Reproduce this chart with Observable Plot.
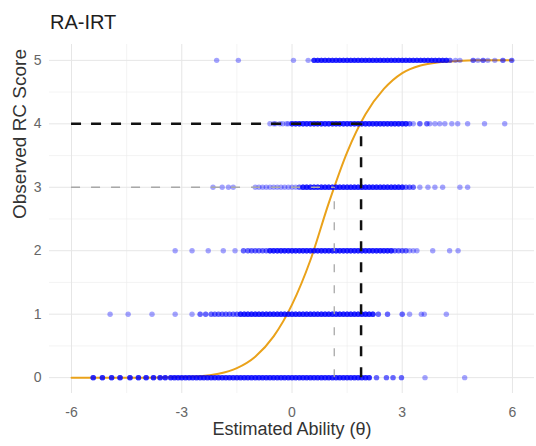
<!DOCTYPE html>
<html>
<head>
<meta charset="utf-8">
<script src="https://cdn.jsdelivr.net/npm/d3@7"></script>
<script src="https://cdn.jsdelivr.net/npm/@observablehq/plot@0.6"></script>
<style>
  html, body { margin: 0; padding: 0; background: #fff; }
  #wrap { width: 536px; height: 446px; position: relative; overflow: hidden; }
  #title { height: 36px; box-sizing: border-box; padding: 12px 0 0 50px; font: 20px/20px "Liberation Sans", Arial, sans-serif; color: #1e1e1e; }
  #chart svg { display: block; }
</style>
</head>
<body>
<div id="wrap">
  <div id="title">RA-IRT</div>
  <div id="chart"></div>
</div>
<script>
// ---- axis ticks ----
const xTicks = [-6, -3, 0, 3, 6];
const xMinor = [-4.5, -1.5, 1.5, 4.5];
const yTicks = [0, 1, 2, 3, 4, 5];
const yMinor = [0.5, 1.5, 2.5, 3.5, 4.5];

// ---- expected score curve ----
const curveTheta = [-6, -5, -4, -3, -2.5, -2, -1.5, -1, -0.5, 0, 0.5, 1, 1.5, 2, 2.5, 3, 3.5, 4, 4.5, 5, 6];
const curveScore = [0, 0, 0, 0.01, 0.02, 0.06, 0.15, 0.33, 0.65, 1.15, 1.85, 2.75, 3.55, 4.15, 4.55, 4.8, 4.92, 4.97, 4.99, 5, 5];

// ---- cut-off guides ----
const cutScore = [3, 4];
const cutTheta = [1.15, 1.88];

// ---- observed students: isolated points (one per value) and dense bands (~4 per value) ----
const bandCount = 4;
const sparse0 = [2.3, 2.3, 2.57, 2.57, 2.75, 2.75, 2.98, 2.98, 3.62, 4.7];
const band0 = [-5.41, -5.16, -4.91, -4.68, -4.41, -4.18, -3.97, -3.77, -3.59, -3.45,
  -3.3, -3.2, -3.1, -3.0, -2.9, -2.8, -2.7, -2.6, -2.5, -2.4,
  -2.3, -2.2, -2.1, -2.0, -1.9, -1.8, -1.7, -1.6, -1.5, -1.4,
  -1.3, -1.2, -1.1, -1.0, -0.9, -0.8, -0.7, -0.6, -0.5, -0.4,
  -0.3, -0.2, -0.1, 0.0, 0.1, 0.2, 0.3, 0.4, 0.5, 0.6,
  0.7, 0.8, 0.9, 1.0, 1.1, 1.2, 1.3, 1.4, 1.5, 1.6,
  1.7, 1.8, 1.9, 2.0, 2.1];

const sparse1 = [-4.95, -4.46, -3.81, -3.18, -2.72,
  -2.5, -2.5, -2.35, -2.35, -2.2, -2.2, -2.1, -2.1, -2.0, -2.0, -1.9, -1.9, -1.8, -1.8, -1.7, -1.7, -1.6, -1.6, -1.5, -1.5,
  2.35, 2.35, 2.6, 2.6, 3.0, 3.0, 3.2, 3.52, 3.6, 4.2];
const band1 = [-1.4, -1.3, -1.2, -1.1, -1.0, -0.9, -0.8, -0.7, -0.6, -0.5,
  -0.4, -0.3, -0.2, -0.1, 0.0, 0.1, 0.2, 0.3, 0.4, 0.5,
  0.6, 0.7, 0.8, 0.9, 1.0, 1.1, 1.2, 1.3, 1.4, 1.5,
  1.6, 1.7, 1.8, 1.9, 2.0, 2.1, 2.2];

const sparse2 = [-3.18, -2.72, -2.28, -1.87, -1.55,
  -1.32, -1.32, -1.2, -1.2, -1.1, -1.1, -1.0, -1.0, -0.9, -0.9, -0.8, -0.8, -0.7, -0.7,
  2.8, 2.8, 2.9, 2.9, 3.0, 3.0, 3.1, 3.1, 3.2, 3.3, 3.4, 3.83, 4.29, 4.52];
const band2 = [-0.6, -0.5, -0.4, -0.3, -0.2, -0.1, 0.0, 0.1, 0.2, 0.3,
  0.4, 0.5, 0.6, 0.7, 0.8, 0.9, 1.0, 1.1, 1.2, 1.3,
  1.4, 1.5, 1.6, 1.7, 1.8, 1.9, 2.0, 2.1, 2.2, 2.3,
  2.4, 2.5, 2.6, 2.7];

const sparse3 = [-2.15, -1.9, -1.73, -1.6,
  -1.0, -0.9, -0.8, -0.7, -0.6, -0.5, -0.4, -0.3, -0.2, -0.1, 0.0, 0.1, 0.2, 0.2,
  3.1, 3.1, 3.2, 3.2, 3.3, 3.3, 3.48, 3.7, 3.89, 4.1, 4.57, 4.78];
const band3 = [0.3, 0.4, 0.5, 0.6, 0.7, 0.8, 0.9, 1.0, 1.1, 1.2,
  1.3, 1.4, 1.5, 1.6, 1.7, 1.8, 1.9, 2.0, 2.1, 2.2,
  2.3, 2.4, 2.5, 2.6, 2.7, 2.8, 2.9, 3.0];

const sparse4 = [-0.6, -0.5, -0.45, -0.33, -0.25, -0.15, -0.1,
  3.2, 3.2, 3.3, 3.48, 3.48, 3.67, 3.67, 3.75, 3.89, 4.02, 4.16, 4.35, 4.51, 4.78, 5.24, 5.79];
const band4 = [0.0, 0.1, 0.2, 0.3, 0.4, 0.5, 0.6, 0.7, 0.8, 0.9,
  1.0, 1.1, 1.2, 1.3, 1.4, 1.5, 1.6, 1.7, 1.8, 1.9,
  2.0, 2.1, 2.2, 2.3, 2.4, 2.5, 2.6, 2.7, 2.8, 2.9,
  3.0, 3.1];

const sparse5 = [-2.05, -1.46, 0.04, 0.44,
  4.3, 4.3, 4.45, 4.57, 4.93, 4.93, 5.06, 5.2, 5.2, 5.33, 5.52, 5.74, 5.74, 5.98, 5.98];
const band5 = [0.6, 0.7, 0.8, 0.9, 1.0, 1.1, 1.2, 1.3, 1.4, 1.5,
  1.6, 1.7, 1.8, 1.9, 2.0, 2.1, 2.2, 2.3, 2.4, 2.5,
  2.6, 2.7, 2.8, 2.9, 3.0, 3.1, 3.2, 3.3, 3.4, 3.5,
  3.6, 3.7, 3.8, 3.9, 4.0, 4.1, 4.2];

// ---- build tables ----
const rows = [
  [0, sparse0, band0], [1, sparse1, band1], [2, sparse2, band2],
  [3, sparse3, band3], [4, sparse4, band4], [5, sparse5, band5]
];
const points = [];
for (const [score, sparse, band] of rows) {
  for (const t of sparse) points.push({theta: t, score});
  for (const t of band) for (let k = 0; k < bandCount; k++) points.push({theta: t, score});
}
const curve = curveTheta.map((t, i) => ({theta: t, score: curveScore[i]}));
const cuts = cutScore.map((s, i) => ({score: s, theta: cutTheta[i]}));
const thetaStart = xTicks[0];
const scoreStart = yTicks[0];

const font = "'Liberation Sans', Arial, sans-serif";

const chart = Plot.plot({
  width: 536,
  height: 410,
  marginTop: 8,
  marginBottom: 53,
  marginLeft: 49,
  marginRight: 2,
  style: {fontFamily: font, background: "#fff"},
  x: {domain: [-6.6, 6.6], label: null},
  y: {domain: [-0.25, 5.25], label: null},
  marks: [
    Plot.gridX(xMinor, {stroke: "#ececec", strokeOpacity: 1, strokeWidth: 0.6}),
    Plot.gridY(yMinor, {stroke: "#ececec", strokeOpacity: 1, strokeWidth: 0.6}),
    Plot.gridX(xTicks, {stroke: "#e6e6e6", strokeOpacity: 1, strokeWidth: 1}),
    Plot.gridY(yTicks, {stroke: "#e6e6e6", strokeOpacity: 1, strokeWidth: 1}),
    Plot.line(curve, {x: "theta", y: "score", stroke: "#EAA21A", strokeWidth: 2, curve: "monotone-x"}),
    Plot.dot(points, {x: "theta", y: "score", r: 2.7, fill: "#0000ff", fillOpacity: 0.36, stroke: "none"}),
    Plot.ruleY(cuts.filter(d => d.score === cutScore[0]), {y: "score", x1: () => thetaStart, x2: "theta", stroke: "#a8a8a8", strokeWidth: 1.3, strokeDasharray: "9,11"}),
    Plot.ruleX(cuts.filter(d => d.score === cutScore[0]), {x: "theta", y1: () => scoreStart, y2: "score", stroke: "#a8a8a8", strokeWidth: 1.3, strokeDasharray: "8,13"}),
    Plot.ruleY(cuts.filter(d => d.score === cutScore[1]), {y: "score", x1: () => thetaStart, x2: "theta", stroke: "#111", strokeWidth: 2.5, strokeDasharray: "10,10"}),
    Plot.ruleX(cuts.filter(d => d.score === cutScore[1]), {x: "theta", y1: () => scoreStart, y2: "score", stroke: "#111", strokeWidth: 2.5, strokeDasharray: "10,11"}),
    Plot.axisX(xTicks, {tickSize: 0, tickPadding: 14, tickFormat: d => String(d), fontSize: 14, color: "#666", label: null}),
    Plot.axisY(yTicks, {tickSize: 0, tickPadding: 8, tickFormat: d => String(d), fontSize: 14, color: "#666", label: null}),
    Plot.text(["Estimated Ability (θ)"], {text: d => d, frameAnchor: "bottom", dy: 36, lineAnchor: "middle", fontSize: 18, fill: "#333"}),
    Plot.text(["Observed RC Score"], {text: d => d, frameAnchor: "left", dx: -30, rotate: -90, lineAnchor: "middle", fontSize: 19, fill: "#333"})
  ]
});
document.getElementById("chart").appendChild(chart);
</script>
</body>
</html>
